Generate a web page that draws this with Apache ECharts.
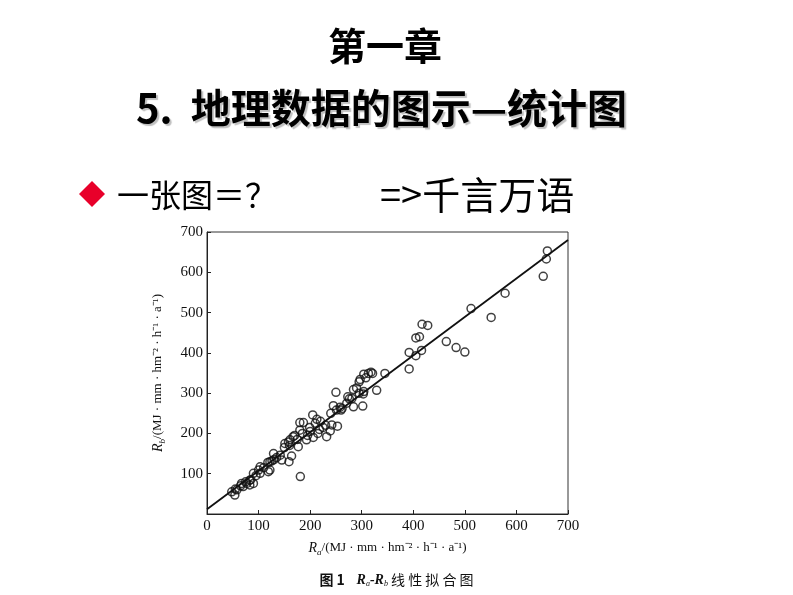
<!DOCTYPE html>
<html>
<head>
<meta charset="utf-8">
<script src="https://cdn.jsdelivr.net/npm/echarts@6/dist/echarts.min.js"></script>
<style>
html,body{margin:0;padding:0;background:#fff;}
#c{width:793px;height:595px;}
</style>
</head>
<body>
<div id="c"></div>
<script>
// Ra (x) values
var ra = [660,658,652,578,512,551,417,428,405,412,464,483,500,392,405,416,345,392,
  329,318,304,308,295,290,284,295,304,250,276,271,302,284,260,251,245,205,213,187,
  199,218,242,253,239,232,206,180,167,161,151,193,177,313,321,297,273,281,303,258,
  262,240,180,158,164,159,181,142,145,129,122,118,126,122,119,103,100,103,90,83,90,
  77,83,67,70,58,48,54,210,220,225,215,200,230,195,170,175,185,160,150,135,130,110,95,85,75,65,55];
// Rb (y) values
var rb = [653,633,590,548,510,488,471,468,437,440,428,413,402,401,393,406,349,360,
  307,352,347,338,328,313,309,300,304,302,286,275,268,266,258,258,269,246,235,227,
  215,210,221,218,206,192,190,208,192,184,175,184,167,349,349,334,291,287,298,265,
  262,250,227,179,144,130,93,146,134,150,130,128,132,109,105,117,109,101,101,84,76,
  76,72,76,68,60,55,47,225,230,215,200,205,220,195,195,185,200,170,165,140,135,115,95,85,80,70,62];
// fitted line end points
var fitX = [0, 700];
var fitY = [12, 680];
var axisTicks = [0,100,200,300,400,500,600,700];

var pts = ra.map(function(v,i){return [v, rb[i]];});
var fit = fitX.map(function(v,i){return [v, fitY[i]];});

var serif = 'Liberation Serif';
var cjk = 'Noto Sans CJK SC';
var nameRich = {
  i:{fontFamily:serif,fontStyle:'italic',fontSize:14,color:'#111'},
  s:{fontFamily:serif,fontStyle:'italic',fontSize:9,color:'#111',padding:[9,0,0,0]},
  n:{fontFamily:serif,fontSize:13,color:'#111'}
};
var chart = echarts.init(document.getElementById('c'));
chart.setOption({
  backgroundColor:'#fff',
  animation:false,
  grid:{left:207,right:225,top:232,bottom:81,show:true,borderColor:'#333',borderWidth:1},
  xAxis:{type:'value',min:axisTicks[0],max:axisTicks[axisTicks.length-1],interval:100,
    axisLine:{show:true,lineStyle:{color:'#222',width:1}},
    axisTick:{show:true,inside:true,length:4,lineStyle:{color:'#222'}},
    splitLine:{show:false},
    axisLabel:{color:'#111',fontFamily:serif,fontSize:15,margin:5},
    name:'{i|R}{s|a}{n|/(MJ · mm · hm⁻² · h⁻¹ · a⁻¹)}',
    nameLocation:'middle',nameGap:25,
    nameTextStyle:{rich:nameRich}
  },
  yAxis:{type:'value',min:0,max:700,interval:100,
    axisLine:{show:true,lineStyle:{color:'#222',width:1}},
    axisTick:{show:true,inside:true,length:4,lineStyle:{color:'#222'}},
    splitLine:{show:false},
    axisLabel:{color:'#111',fontFamily:serif,fontSize:15,margin:4,showMinLabel:false},
    name:'{i|R}{s|b}{n|/(MJ · mm · hm⁻² · h⁻¹ · a⁻¹)}',
    nameLocation:'middle',nameGap:40,
    nameTextStyle:{rich:nameRich}
  },
  series:[
    {type:'scatter',data:pts,symbol:'circle',symbolSize:8,
      itemStyle:{color:'rgba(255,255,255,0)',borderColor:'#111',borderWidth:1.5}},
    {type:'line',data:fit,symbol:'none',lineStyle:{color:'#111',width:1.8},z:3}
  ],
  graphic:[
    {type:'text',x:328,y:46,style:{text:'第一章',fontFamily:cjk,fontWeight:'bold',fontSize:38,fill:'#000',verticalAlign:'middle'}},
    {type:'text',x:136,y:108,style:{text:'5.  地理数据的图示—统计图',fontFamily:cjk,fontWeight:'bold',fontSize:40,fill:'#000',
      verticalAlign:'middle',textShadowColor:'rgba(0,0,0,0.25)',textShadowOffsetX:2,textShadowOffsetY:2,textShadowBlur:1}},
    {type:'polygon',shape:{points:[[92,181],[105,194],[92,207],[79,194]]},style:{fill:'#e8002a'}},
    {type:'text',x:117,y:195,style:{text:'一张图＝？',fontFamily:cjk,fontSize:32,fill:'#000',verticalAlign:'middle'}},
    {type:'text',x:380,y:195,style:{text:'=>千言万语',fontFamily:cjk,fontSize:38,fill:'#000',verticalAlign:'middle'}},
    {type:'text',left:'center',top:573,style:{
      text:'{b|图 1}{sp|   }{i|R}{s|a}{i|-R}{s|b}{c| 线 性 拟 合 图}',
      rich:{
        b:{fontFamily:cjk,fontWeight:'bold',fontSize:14,fill:'#111'},
        sp:{fontSize:14},
        i:{fontFamily:serif,fontStyle:'italic',fontWeight:'bold',fontSize:14,fill:'#111'},
        s:{fontFamily:serif,fontStyle:'italic',fontSize:8,fill:'#111',padding:[8,0,0,0]},
        c:{fontFamily:cjk,fontSize:14,fill:'#111'}
      }}}
  ]
});
</script>
</body>
</html>
